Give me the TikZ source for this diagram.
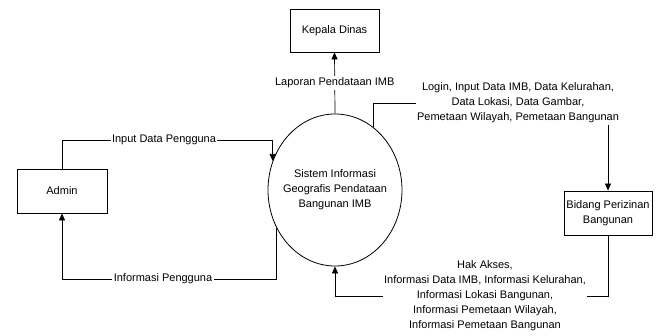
\documentclass[tikz,border=0pt]{standalone}
\usepackage{fontspec}
\setmainfont{Liberation Sans}
\usetikzlibrary{arrows.meta,shapes.geometric}
\begin{document}
\begin{tikzpicture}[x=1pt,y=-1pt,
  every node/.style={font=\fontsize{11}{15}\selectfont},
  box/.style={draw,line width=0.8pt,rectangle,align=center,inner sep=2pt},
  proc/.style={draw,line width=0.8pt,ellipse,inner sep=0pt,minimum width=134pt,minimum height=152pt},
  flow/.style={line width=0.7pt,-{Triangle[width=6pt,length=7pt]}},
  lbl/.style={fill=white,align=center,inner sep=1.5pt}]
\useasboundingbox (0,0) rectangle (658,336);
\node[box,minimum width=89pt,minimum height=43pt] (kd) at (334.5,30.5) {Kepala Dinas};
\node[proc,label={[align=center,font=\fontsize{11}{15}\selectfont]center:Sistem Informasi\\Geografis Pendataan\\Bangunan IMB}] (sys) at (335,190) {};
\node[box,minimum width=90pt,minimum height=44pt] (admin) at (62,191) {Admin};
\node[box,minimum width=88pt,minimum height=44pt] (bid) at (608,213) {Bidang Perizinan\\Bangunan};
\coordinate (h140) at (0,140);
\coordinate (h279) at (0,279);
\coordinate (h103) at (0,103);
\coordinate (h296) at (0,296);
% to Kepala Dinas
\draw[flow] (sys.north) -- node[lbl] {Laporan Pendataan IMB} (kd.south);
% admin -> sys
\draw[flow] (admin.north) |- (sys.155 |- h140) -- (sys.155);
\node[lbl] (l1) at (164,140) {Input Data Pengguna};
% sys -> admin
\draw[flow] (sys.213) -- (sys.213 |- h279) -| (admin.south);
\node[lbl] (l2) at (163,279) {Informasi Pengguna};
% sys -> bidang
\draw[flow] (sys.59) |- (bid.north |- h103) -- (bid.north);
\node[lbl] (l3) at (518,103) {Login, Input Data IMB, Data Kelurahan,\\Data Lokasi, Data Gambar,\\Pemetaan Wilayah, Pemetaan Bangunan};
% bidang -> sys
\draw[flow] (bid.south) -- (bid.south |- h296) -| (sys.south);
\node[lbl] (l4) at (485,296) {Hak Akses,\\Informasi Data IMB, Informasi Kelurahan,\\Informasi Lokasi Bangunan,\\Informasi Pemetaan Wilayah,\\Informasi Pemetaan Bangunan};
\end{tikzpicture}
\end{document}
